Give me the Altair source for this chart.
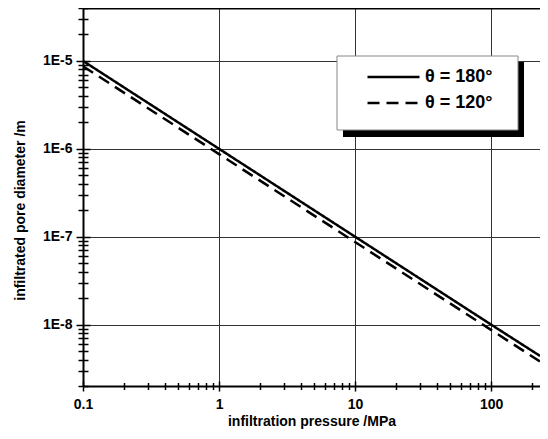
import altair as alt
import pandas as pd

# ---- data ----
pressure = [0.1, 1, 10, 100, 229]                      # MPa
d_180 = [1.0e-5, 1.0e-6, 1.0e-7, 1.0e-8, 4.4e-9]       # m
d_120 = [8.7e-6, 8.7e-7, 8.7e-8, 8.7e-9, 3.8e-9]       # m
series = ["θ = 180°", "θ = 120°"]

x_major = [0.1, 1, 10, 100]
x_minor = [0.2, 0.3, 0.4, 0.5, 0.6, 0.7, 0.8, 0.9,
           2, 3, 4, 5, 6, 7, 8, 9,
           20, 30, 40, 50, 60, 70, 80, 90,
           200]
y_major = [1e-8, 1e-7, 1e-6, 1e-5]
y_minor = [2e-9, 3e-9, 4e-9, 5e-9, 6e-9, 7e-9, 8e-9, 9e-9,
           2e-8, 3e-8, 4e-8, 5e-8, 6e-8, 7e-8, 8e-8, 9e-8,
           2e-7, 3e-7, 4e-7, 5e-7, 6e-7, 7e-7, 8e-7, 9e-7,
           2e-6, 3e-6, 4e-6, 5e-6, 6e-6, 7e-6, 8e-6, 9e-6,
           2e-5, 3e-5, 4e-5]
x_domain = [0.1, 229]
y_domain = [2e-9, 4e-5]

rows = []
for p, a, b in zip(pressure, d_180, d_120):
    rows.append({"P": p, "d": a, "s": series[0]})
    rows.append({"P": p, "d": b, "s": series[1]})
df = pd.DataFrame(rows)

FONT = "Liberation Sans"
xs = alt.Scale(type="log", domain=x_domain, nice=False)
ys = alt.Scale(type="log", domain=y_domain, nice=False)


def tick_axis(orient, values, size, offset=0):
    return alt.Axis(orient=orient, values=values, tickSize=size, offset=offset,
                    tickColor="black", tickWidth=1.5, labels=False,
                    domain=False, grid=False, title=None)


main_x = alt.Axis(orient="bottom", values=x_major, format="~g", grid=True,
                  gridColor="#333333", gridWidth=1, domainColor="black",
                  domainWidth=2, tickColor="black", tickWidth=1.5, tickSize=5,
                  labelFont=FONT, labelFontSize=14, labelFontWeight="bold",
                  labelColor="black", labelPadding=6, labelFlush=False,
                  labelOverlap=False, title="infiltration pressure /MPa",
                  titleFont=FONT, titleFontSize=14, titleFontWeight="bold",
                  titleColor="black", titlePadding=3)
main_y = alt.Axis(orient="left", values=y_major,
                  labelExpr="'1E' + round(log(datum.value)/LN10)", grid=True,
                  gridColor="#333333", gridWidth=1, domainColor="black",
                  domainWidth=2, tickColor="black", tickWidth=1.5, tickSize=7,
                  labelFont=FONT, labelFontSize=14, labelFontWeight="bold",
                  labelColor="black", labelPadding=4, labelFlush=False,
                  labelOverlap=False, title="infiltrated pore diameter /m",
                  titleFont=FONT, titleFontSize=14, titleFontWeight="bold",
                  titleColor="black", titleX=-63, titleY=202,
                  titleAlign="center", titleBaseline="middle")

legend = alt.Legend(title=None, orient="none", legendX=283, legendY=59,
                    padding=0, clipHeight=20, rowPadding=6,
                    symbolType="stroke", symbolSize=2704,
                    symbolStrokeWidth=2.5, symbolStrokeColor="black",
                    labelFont=FONT, labelFontSize=18, labelFontWeight="bold",
                    labelColor="black", labelOffset=4)

dummy = alt.Data(values=[{"k": 1}])
shadow = alt.Chart(dummy).mark_rect(color="black").encode(
    x=alt.value(260), x2=alt.value(441), y=alt.value(54), y2=alt.value(129))
box = alt.Chart(dummy).mark_rect(fill="white", stroke="#888888", strokeWidth=1).encode(
    x=alt.value(254), x2=alt.value(435), y=alt.value(48), y2=alt.value(122))

lines = alt.Chart(df).mark_line(strokeWidth=2.5, color="black", clip=True).encode(
    x=alt.X("P:Q", scale=xs, axis=main_x),
    y=alt.Y("d:Q", scale=ys, axis=main_y),
    strokeDash=alt.StrokeDash("s:N", scale=alt.Scale(domain=series, range=[[1, 0], [12, 7]]),
                              legend=legend),
)


def ghost(xaxis, yaxis):
    return alt.Chart(df).mark_line(strokeOpacity=0).encode(
        x=alt.X("P:Q", scale=xs, axis=xaxis),
        y=alt.Y("d:Q", scale=ys, axis=yaxis),
        detail="s:N",
    )


minor_out = ghost(tick_axis("bottom", x_minor, 3.5), tick_axis("left", y_minor, 5))
major_in = ghost(tick_axis("bottom", x_major, 5, -5), tick_axis("left", y_major, 7, -7))
minor_in = ghost(tick_axis("bottom", x_minor, 3.5, -3.5), tick_axis("left", y_minor, 5, -5))
top = ghost(alt.Axis(orient="top", domain=True, domainWidth=2, domainColor="black",
                     ticks=False, labels=False, grid=False, title=None), None)

chart = alt.layer(shadow, box, lines, minor_out, major_in, minor_in, top).resolve_axis(
    x="independent", y="independent"
).properties(
    width=457, height=378,
    autosize=alt.AutoSizeParams(type="none"),
    padding={"left": 75, "top": 0, "right": 0, "bottom": 45},
).configure_view(stroke=None)

chart.save("out.html", embed_options={"renderer": "svg", "actions": False})
